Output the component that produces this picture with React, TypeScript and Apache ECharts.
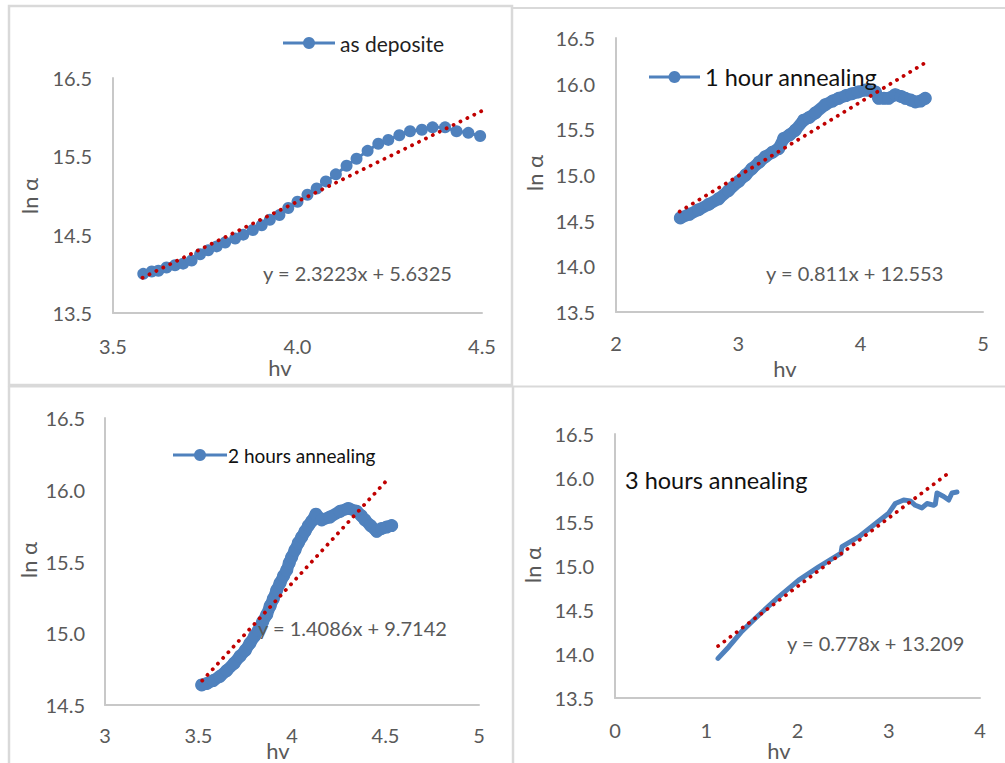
import React, { useEffect, useRef } from "react";
import * as echarts from "echarts";

const BLUE = "#4f81bd";
const RED = "#c00000";
const TICK = "#595959";
const AXIS = "#c8c8c8";
const BORDER = "#d9d9d9";
const FONT = "Lato, 'Noto Sans', sans-serif";

// Panel 1: as deposite
const hv1 = [3.582, 3.605, 3.623, 3.645, 3.668, 3.69, 3.713, 3.736, 3.758, 3.781, 3.804, 3.831, 3.853, 3.879, 3.903, 3.925, 3.951, 3.975, 4.0, 4.027, 4.052, 4.077, 4.104, 4.133, 4.16, 4.19, 4.219, 4.246, 4.276, 4.305, 4.337, 4.366, 4.4, 4.431, 4.463, 4.495];
const ln1 = [14.0, 14.03, 14.04, 14.08, 14.11, 14.13, 14.17, 14.25, 14.3, 14.35, 14.4, 14.45, 14.5, 14.56, 14.62, 14.69, 14.75, 14.84, 14.92, 15.01, 15.09, 15.18, 15.27, 15.38, 15.47, 15.57, 15.66, 15.71, 15.77, 15.82, 15.84, 15.87, 15.87, 15.82, 15.8, 15.76];
const trend1X = [3.58, 4.5];
const trend1Y = [13.95, 16.08];

// Panel 2: 1 hour annealing
const hv2 = [2.526, 2.6, 2.676, 2.76, 2.84, 2.92, 3.003, 3.06, 3.112, 3.17, 3.221, 3.28, 3.33, 3.371, 3.42, 3.466, 3.534, 3.58, 3.63, 3.711, 3.77, 3.82, 3.88, 3.93, 3.98, 4.038, 4.12, 4.147, 4.19, 4.229, 4.283, 4.33, 4.365, 4.41, 4.447, 4.49, 4.528];
const ln2 = [14.53, 14.57, 14.62, 14.68, 14.74, 14.83, 14.93, 15.0, 15.07, 15.14, 15.2, 15.25, 15.29, 15.4, 15.44, 15.49, 15.6, 15.63, 15.68, 15.77, 15.81, 15.84, 15.87, 15.89, 15.91, 15.93, 15.91, 15.84, 15.84, 15.84, 15.88, 15.86, 15.84, 15.82, 15.8, 15.81, 15.84];
const trend2X = [2.52, 4.53];
const trend2Y = [14.6, 16.23];

// Panel 3: 2 hours annealing
const hv3 = [3.517, 3.545, 3.579, 3.615, 3.651, 3.69, 3.722, 3.75, 3.775, 3.8, 3.82, 3.843, 3.865, 3.883, 3.9, 3.918, 3.936, 3.955, 3.972, 3.985, 3.998, 4.016, 4.034, 4.052, 4.07, 4.088, 4.105, 4.128, 4.159, 4.203, 4.257, 4.301, 4.346, 4.37, 4.39, 4.42, 4.453, 4.48, 4.506, 4.533];
const ln3 = [14.64, 14.65, 14.67, 14.7, 14.74, 14.79, 14.84, 14.88, 14.93, 14.98, 15.02, 15.08, 15.13, 15.19, 15.24, 15.3, 15.35, 15.4, 15.44, 15.49, 15.53, 15.58, 15.63, 15.67, 15.71, 15.75, 15.78, 15.83, 15.79, 15.81, 15.85, 15.87, 15.85, 15.82, 15.79, 15.75, 15.71, 15.73, 15.74, 15.75];
const trend3X = [3.52, 4.51];
const trend3Y = [14.67, 16.07];

// Panel 4: 3 hours annealing
const hv4 = [1.129, 1.246, 1.392, 1.574, 1.794, 2.013, 2.232, 2.451, 2.475, 2.488, 2.67, 2.853, 2.999, 3.072, 3.163, 3.236, 3.291, 3.364, 3.419, 3.492, 3.51, 3.529, 3.602, 3.657, 3.693, 3.748];
const ln4 = [13.95, 14.08, 14.26, 14.44, 14.65, 14.84, 14.99, 15.13, 15.14, 15.22, 15.33, 15.48, 15.6, 15.71, 15.75, 15.74, 15.69, 15.66, 15.71, 15.69, 15.7, 15.83, 15.79, 15.75, 15.83, 15.84];
const trend4X = [1.13, 3.66];
const trend4Y = [14.09, 16.06];

const zip = (xs: number[], ys: number[]) => xs.map((x, i) => [x, ys[i]]);

const axisCommon = {
  type: "value" as const,
  axisLine: { show: true, onZero: false, lineStyle: { color: AXIS, width: 2 } },
  axisTick: { show: false },
  splitLine: { show: false },
};

const label = (margin: number, formatter: (v: number) => string) => ({
  color: TICK,
  fontSize: 20,
  fontFamily: FONT,
  margin,
  formatter,
});

const f1 = (v: number) => v.toFixed(1);
const fint = (v: number) => String(Math.round(v));
const fgen = (v: number) => String(Math.round(v * 10) / 10);
const fHalf = (v: number) => (Math.abs(v - Math.floor(v) - 0.5) < 1e-6 ? v.toFixed(1) : "");

function txt(x: number, y: number, text: string, size: number, fill: string, align: string = "left", rotation = 0) {
  return {
    type: "text",
    x,
    y,
    rotation,
    z: 100,
    silent: true,
    style: { text, fill, fontSize: size, fontFamily: FONT, align, verticalAlign: "middle" },
  };
}

function legendIcon(x1: number, x2: number, y: number) {
  return [
    { type: "line", z: 100, silent: true, shape: { x1, y1: y, x2, y2: y }, style: { stroke: BLUE, lineWidth: 3 } },
    { type: "circle", z: 101, silent: true, shape: { cx: (x1 + x2) / 2, cy: y, r: 6 }, style: { fill: BLUE } },
  ];
}

function dataSeries(idx: number, data: number[][], lineWidth: number, symbolSize: number, showSymbol: boolean) {
  return {
    type: "line",
    xAxisIndex: idx,
    yAxisIndex: idx,
    data,
    showSymbol,
    symbol: "circle",
    symbolSize,
    itemStyle: { color: BLUE },
    lineStyle: { color: BLUE, width: lineWidth, cap: "round", join: "round" },
    z: 2,
    silent: true,
  };
}

function trendSeries(idx: number, data: number[][]) {
  return {
    type: "line",
    xAxisIndex: idx,
    yAxisIndex: idx,
    data,
    showSymbol: false,
    symbol: "none",
    lineStyle: { color: RED, width: 3.8, type: [0.1, 7.6], cap: "round" },
    z: 5,
    silent: true,
  };
}

export default function App() {
  const ref = useRef<HTMLDivElement>(null);

  useEffect(() => {
    if (!ref.current) return;
    const chart = echarts.init(ref.current, undefined, { renderer: "svg" });

    const graphics: any[] = [
      { type: "rect", silent: true, shape: { x: 9, y: 6, width: 503, height: 379 }, style: { fill: "none", stroke: BORDER, lineWidth: 2.5 } },
      { type: "line", silent: true, shape: { x1: 513, y1: 8, x2: 1005, y2: 8 }, style: { stroke: BORDER, lineWidth: 2 } },
      { type: "line", silent: true, shape: { x1: 8, y1: 386.5, x2: 1005, y2: 386.5 }, style: { stroke: BORDER, lineWidth: 2 } },
      { type: "line", silent: true, shape: { x1: 9, y1: 386, x2: 9, y2: 763 }, style: { stroke: BORDER, lineWidth: 2.5 } },
      { type: "line", silent: true, shape: { x1: 513, y1: 386, x2: 513, y2: 763 }, style: { stroke: BORDER, lineWidth: 2.5 } },

      // panel 1
      ...legendIcon(283, 335, 43),
      txt(340, 43, "as deposite", 21, "#1f1f1f"),
      txt(263, 273, "y = 2.3223x + 5.6325", 20, TICK),
      txt(280, 367, "hv", 22, TICK, "center"),
      txt(29, 196, "ln α", 22, TICK, "center", Math.PI / 2),

      // panel 2
      ...legendIcon(649, 700, 77),
      txt(705, 77, "1 hour annealing", 23.5, "#111"),
      txt(766, 273, "y = 0.811x + 12.553", 20, TICK),
      txt(785, 368, "hv", 22, TICK, "center"),
      txt(534, 173, "ln α", 22, TICK, "center", Math.PI / 2),

      // panel 3
      ...legendIcon(173, 227, 455),
      txt(228, 455, "2 hours annealing", 19, "#111"),
      txt(258, 628, "y = 1.4086x + 9.7142", 20, TICK),
      txt(278, 750, "hv", 22, TICK, "center"),
      txt(28, 560, "ln α", 22, TICK, "center", Math.PI / 2),

      // panel 4
      txt(625, 480, "3 hours annealing", 23.5, "#111"),
      txt(787, 643, "y = 0.778x + 13.209", 20, TICK),
      txt(779, 750, "hv", 22, TICK, "center"),
      txt(532, 565, "ln α", 22, TICK, "center", Math.PI / 2),
    ];

    chart.setOption({
      animation: false,
      backgroundColor: "#ffffff",
      grid: [
        { left: 113, top: 78, width: 369, height: 235 },
        { left: 616, top: 38, width: 367, height: 274 },
        { left: 105, top: 418, width: 374, height: 287 },
        { left: 615, top: 434, width: 365, height: 264 },
      ],
      xAxis: [
        { ...axisCommon, gridIndex: 0, min: 3.5, max: 4.5, interval: 0.5, axisLabel: label(23, f1) },
        { ...axisCommon, gridIndex: 1, min: 2, max: 5, interval: 1, axisLabel: label(21, fint) },
        { ...axisCommon, gridIndex: 2, min: 3, max: 5, interval: 0.5, axisLabel: label(20, fgen) },
        { ...axisCommon, gridIndex: 3, min: 0, max: 4, interval: 1, axisLabel: label(22, fint) },
      ],
      yAxis: [
        { ...axisCommon, gridIndex: 0, min: 13.5, max: 16.5, interval: 0.5, axisLabel: label(21, fHalf) },
        { ...axisCommon, gridIndex: 1, min: 13.5, max: 16.5, interval: 0.5, axisLabel: label(21, f1) },
        { ...axisCommon, gridIndex: 2, min: 14.5, max: 16.5, interval: 0.5, axisLabel: label(20, f1) },
        { ...axisCommon, gridIndex: 3, min: 13.5, max: 16.5, interval: 0.5, axisLabel: label(21, f1) },
      ],
      series: [
        dataSeries(0, zip(hv1, ln1), 3, 12, true),
        trendSeries(0, zip(trend1X, trend1Y)),
        dataSeries(1, zip(hv2, ln2), 12, 13, true),
        trendSeries(1, zip(trend2X, trend2Y)),
        dataSeries(2, zip(hv3, ln3), 12, 13, true),
        trendSeries(2, zip(trend3X, trend3Y)),
        dataSeries(3, zip(hv4, ln4), 5, 4, false),
        trendSeries(3, zip(trend4X, trend4Y)),
      ],
      graphic: graphics,
    });

    return () => chart.dispose();
  }, []);

  return (
    <div
      ref={ref}
      style={{ position: "fixed", left: 0, top: 0, width: 1005, height: 763, background: "#fff" }}
    />
  );
}
